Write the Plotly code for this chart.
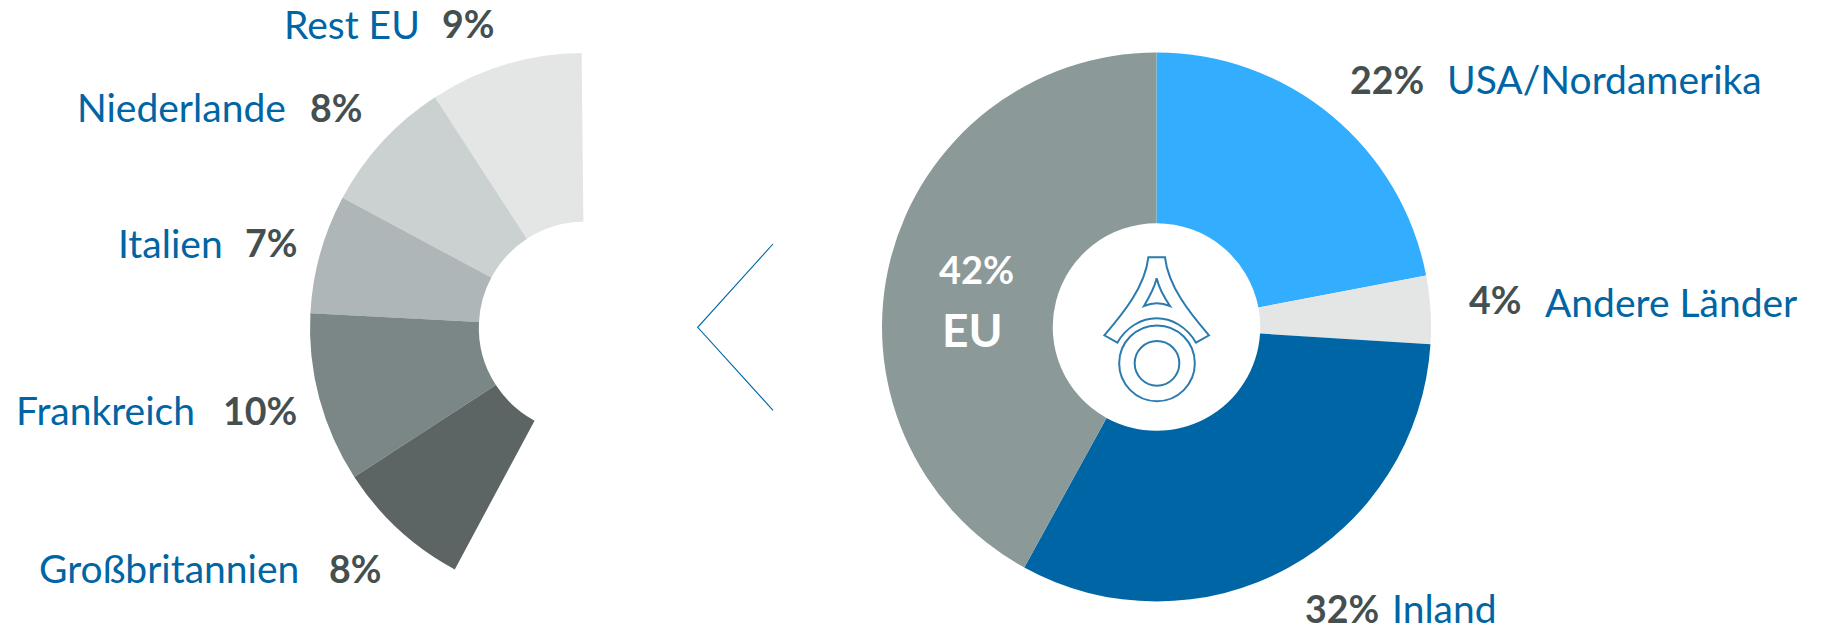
import plotly.graph_objects as go

W, H = 1821, 630

# --- data ---
main_labels = ["USA/Nordamerika", "Andere Länder", "Inland", "EU"]
main_values = [22, 4, 32, 42]
eu_labels = ["Rest EU", "Niederlande", "Italien", "Frankreich", "Großbritannien"]
eu_values = [9, 8, 7, 10, 8]
rest_label = "Nicht-EU"
rest_value = 100 - sum(eu_values)

# --- style ---
main_colors = ["#33AEFF", "#E4E6E5", "#0065A4", "#8B9A99"]
eu_colors = ["#E4E6E5", "#CBD0D0", "#AFB6B7", "#7B8686", "#5C6464", "rgba(0,0,0,0)"]
BLUE = "#0065A4"
DARK = "#454F4F"
FONT = "Lato"
SIZE = 39
VSIZE = 37.5


def px(x, y):
    return x / W, 1 - y / H


def domain(cx, cy, r):
    return dict(x=[(cx - r) / W, (cx + r) / W], y=[1 - (cy + r) / H, 1 - (cy - r) / H])


fig = go.Figure()
fig.add_trace(go.Pie(
    labels=main_labels, values=main_values, sort=False, direction="clockwise", rotation=0,
    hole=0.378, textinfo="none", hoverinfo="label+percent", showlegend=False,
    marker=dict(colors=main_colors, line=dict(width=0)),
    domain=domain(1156.5, 327, 274.5),
))
# plotly ends the first counterclockwise slice at "rotation", so offset by that slice
fig.add_trace(go.Pie(
    labels=eu_labels + [rest_label], values=eu_values + [rest_value], sort=False,
    direction="counterclockwise", rotation=-0.6 - 3.6 * eu_values[0],
    hole=0.385, textinfo="none", hoverinfo="label+percent", showlegend=False,
    marker=dict(colors=eu_colors, line=dict(width=0)),
    domain=domain(584.5, 327.5, 274.5),
))

annotations = []


def text(s, cx, cy, color, size=SIZE, bold=False):
    x, y = px(cx, cy)
    annotations.append(dict(
        text=s, x=x, y=y, xref="paper", yref="paper", xanchor="center", yanchor="middle",
        showarrow=False, font=dict(family=FONT, size=size, color=color, weight=700 if bold else 400),
    ))


# label centre x, value centre x, label centre y, value centre y
eu_pos = [(352, 468, 24, 24), (181, 336, 107, 107), (170, 271, 243, 243),
          (105, 260, 410, 410), (169, 355, 568, 568)]
for lab, val, (lx, vx, ly, vy) in zip(eu_labels, eu_values, eu_pos):
    text(lab, lx, ly, BLUE)
    text(f"{val}%", vx, vy, DARK, size=VSIZE, bold=True)

main_pos = {
    "USA/Nordamerika": (1604, 1387, 79, 79),
    "Andere Länder": (1671, 1495, 302, 299),
    "Inland": (1444, 1342, 608, 608),
}
for lab, val in zip(main_labels, main_values):
    if lab in main_pos:
        lx, vx, ly, vy = main_pos[lab]
        text(lab, lx, ly, BLUE)
        text(f"{val}%", vx, vy, DARK, size=VSIZE, bold=True)
text(f"{main_values[3]}%", 976, 269, "white", size=38, bold=True)
text(main_labels[3], 972, 329, "white", size=46, bold=True)

# --- chevron and logo, drawn in pixel space ---
def path(points_cmds):
    out = []
    for c in points_cmds:
        if isinstance(c, str):
            out.append(c)
        else:
            x, y = px(*c)
            out.append(f"{x:.5f},{y:.5f}")
    return " ".join(out)


def lz(x, y):
    return 1060 + x / 3, 230 + y / 3


shapes = []
shapes.append(dict(
    type="path", xref="paper", yref="paper",
    path=path(["M", (773, 244), "L", (697.7, 327.3), "L", (773, 410.3)]),
    line=dict(color=BLUE, width=1.1),
))
logo_line = dict(color="#2A7BB0", width=2)
outer = ["M", lz(265, 82), "L", lz(315, 82),
         "C", lz(325, 170), lz(390, 250), lz(447, 316),
         "L", lz(408, 338),
         "C", lz(380, 290), lz(335, 265), lz(290, 265),
         "C", lz(245, 265), lz(200, 290), lz(172, 338),
         "L", lz(133, 316),
         "C", lz(190, 250), lz(255, 170), lz(265, 82), "Z"]
tri = ["M", lz(290, 145),
       "C", lz(297, 175), lz(313, 203), lz(330, 228),
       "Q", lz(290, 212), lz(252, 228),
       "C", lz(267, 203), lz(283, 175), lz(290, 145), "Z"]
shapes.append(dict(type="path", xref="paper", yref="paper", path=path(outer), line=logo_line))
shapes.append(dict(type="path", xref="paper", yref="paper", path=path(tri), line=logo_line))
for r in (113.5, 67):
    x0, y0 = lz(291 - r, 400 - r)
    x1, y1 = lz(291 + r, 400 + r)
    ax0, ay0 = px(x0, y0)
    ax1, ay1 = px(x1, y1)
    shapes.append(dict(type="circle", xref="paper", yref="paper",
                       x0=ax0, x1=ax1, y0=ay0, y1=ay1, line=logo_line))

fig.update_layout(
    width=W, height=H, margin=dict(l=0, r=0, t=0, b=0),
    paper_bgcolor="white", plot_bgcolor="white",
    showlegend=False, annotations=annotations, shapes=shapes,
)

fig.write_html("out.html", config={"displayModeBar": False},
               post_script="document.body.style.margin='0';document.documentElement.style.overflow='hidden';")
